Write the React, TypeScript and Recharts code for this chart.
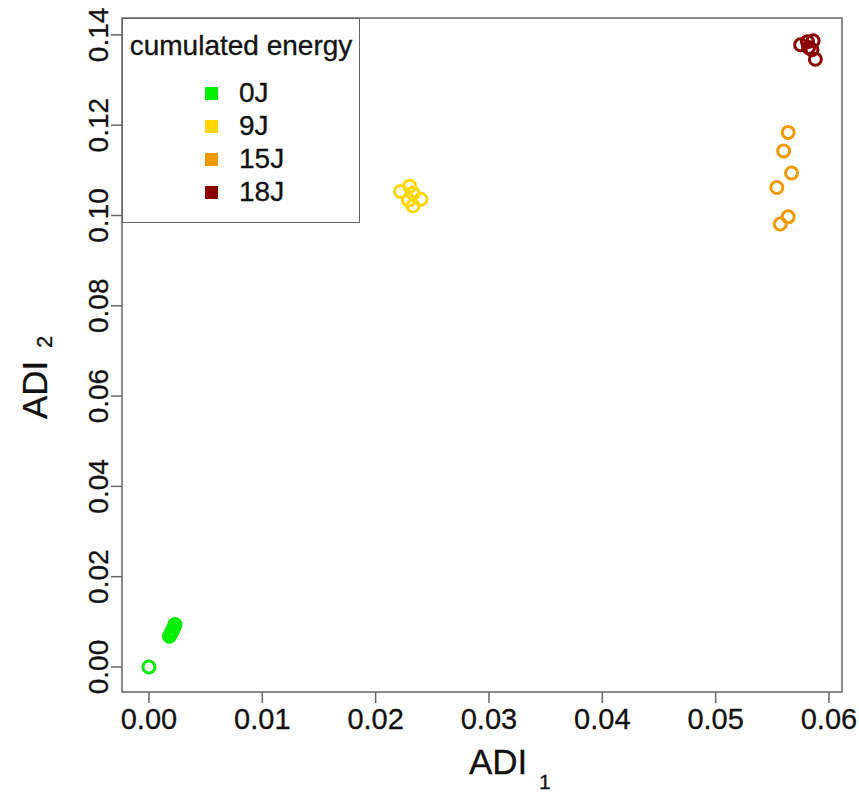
import React from "react";
import { ScatterChart, Scatter, XAxis, YAxis, ReferenceArea, Legend } from "recharts";

// cumulated energy groups
const energyLevels = ["0J", "9J", "15J", "18J"];
const energyColors = ["#00ee00", "#ffd700", "#ee9a00", "#8b0000"];

// ADI_1 / ADI_2 per group
const adi1_0J = [0, 0.0018, 0.0019, 0.002, 0.0021, 0.0022, 0.0023];
const adi2_0J = [0, 0.0068, 0.0072, 0.0077, 0.0082, 0.0088, 0.0094];

const adi1_9J = [0.0222, 0.023, 0.0233, 0.0229, 0.024, 0.0233];
const adi2_9J = [0.1053, 0.1065, 0.1049, 0.1034, 0.1036, 0.1021];

const adi1_15J = [0.0564, 0.056, 0.0567, 0.0554, 0.0564, 0.0557];
const adi2_15J = [0.1184, 0.1143, 0.1094, 0.1062, 0.0997, 0.0981];

const adi1_18J = [0.0575, 0.0581, 0.0586, 0.0582, 0.0585, 0.0588];
const adi2_18J = [0.1378, 0.1385, 0.1387, 0.1372, 0.1367, 0.1346];

const xTicks = [0, 0.01, 0.02, 0.03, 0.04, 0.05, 0.06];
const yTicks = [0, 0.02, 0.04, 0.06, 0.08, 0.1, 0.12, 0.14];

const X_DOMAIN: [number, number] = [-0.00238, 0.06115];
const Y_DOMAIN: [number, number] = [-0.00554, 0.14374];

const FONT = "'Liberation Sans', Arial, sans-serif";
const AXIS_GREY = "#666";
const INK = "#111";

const xsByGroup = [adi1_0J, adi1_9J, adi1_15J, adi1_18J];
const ysByGroup = [adi2_0J, adi2_9J, adi2_15J, adi2_18J];

const series = energyLevels.map((name, i) => ({
  name,
  color: energyColors[i],
  data: xsByGroup[i].map((x, j) => ({ x, y: ysByGroup[i][j] })),
}));

const XTick = (props: any) => {
  const { x, y, payload } = props;
  return (
    <text x={x} y={y + 26} textAnchor="middle" fontSize={29} fontFamily={FONT} fill={INK} stroke={INK} strokeWidth={0.3}>
      {payload.value.toFixed(2)}
    </text>
  );
};

const YTick = (props: any) => {
  const { x, y, payload } = props;
  const bx = x - 3;
  return (
    <text
      x={bx}
      y={y}
      textAnchor="middle"
      fontSize={28}
      fontFamily={FONT}
      fill={INK}
      stroke={INK}
      strokeWidth={0.3}
      transform={`rotate(-90, ${bx}, ${y})`}
    >
      {payload.value.toFixed(2)}
    </text>
  );
};

const XTitle = () => (
  <g fontFamily={FONT} fill={INK} stroke={INK} strokeWidth={0.3}>
    <text x={461} y={766} fontSize={35}>ADI</text>
    <text x={531} y={781} fontSize={21}>1</text>
  </g>
);

const YTitle = () => (
  <g fontFamily={FONT} fill={INK} stroke={INK} strokeWidth={0.3}>
    <text x={39} y={411} fontSize={35} transform="rotate(-90, 39, 411)">ADI</text>
    <text x={44} y={340} fontSize={22} transform="rotate(-90, 44, 340)">2</text>
  </g>
);

const EnergyLegend = () => (
  <div
    style={{
      position: "relative",
      width: 238,
      height: 205,
      boxSizing: "border-box",
      border: `1.5px solid ${AXIS_GREY}`,
      background: "#fff",
      fontFamily: FONT,
      color: INK,
      WebkitTextStroke: "0.3px #111",
    }}
  >
    <div style={{ position: "absolute", top: 11, left: 0, width: "100%", textAlign: "center", fontSize: 28, lineHeight: "32px" }}>
      cumulated energy
    </div>
    {energyLevels.map((name, i) => (
      <div
        key={name}
        style={{
          position: "absolute",
          left: 82,
          top: 58 + i * 33,
          height: 32,
          display: "flex",
          alignItems: "center",
          fontSize: 28,
        }}
      >
        <span style={{ width: 13, height: 13, background: energyColors[i], display: "inline-block", marginRight: 21 }} />
        <span>{name}</span>
      </div>
    ))}
  </div>
);

export default function App() {
  return (
    <div style={{ position: "absolute", left: 8, top: 8, width: 849, height: 788 }}>
      <ScatterChart width={849} height={788} margin={{ top: 10, right: 15, bottom: 0, left: 0 }}>
        <XAxis
          type="number"
          dataKey="x"
          domain={X_DOMAIN}
          ticks={xTicks}
          allowDataOverflow
          axisLine={false}
          tickLine={{ stroke: AXIS_GREY, strokeWidth: 1.5 }}
          tickSize={11}
          tickMargin={0}
          height={104}
          tick={<XTick />}
          interval={0}
          label={<XTitle />}
        />
        <YAxis
          type="number"
          dataKey="y"
          domain={Y_DOMAIN}
          ticks={yTicks}
          allowDataOverflow
          axisLine={false}
          tickLine={{ stroke: AXIS_GREY, strokeWidth: 1.5 }}
          tickSize={11}
          tickMargin={0}
          width={114}
          tick={<YTick />}
          interval={0}
          label={<YTitle />}
        />
        <ReferenceArea
          x1={X_DOMAIN[0]}
          x2={X_DOMAIN[1]}
          y1={Y_DOMAIN[0]}
          y2={Y_DOMAIN[1]}
          fill="none"
          stroke={AXIS_GREY}
          strokeWidth={1.5}
          ifOverflow="visible"
        />
        {series.map((s) => (
          <Scatter
            key={s.name}
            name={s.name}
            data={s.data}
            fill={s.color}
            isAnimationActive={false}
            shape={(p: any) => (
              <circle cx={p.cx} cy={p.cy} r={6} fill="none" stroke={s.color} strokeWidth={3} />
            )}
          />
        ))}
        <Legend
          layout="vertical"
          align="center"
          verticalAlign="middle"
          content={<EnergyLegend />}
          wrapperStyle={{ position: "absolute", left: 114, top: 10, width: 238, height: 205 }}
        />
      </ScatterChart>
    </div>
  );
}
